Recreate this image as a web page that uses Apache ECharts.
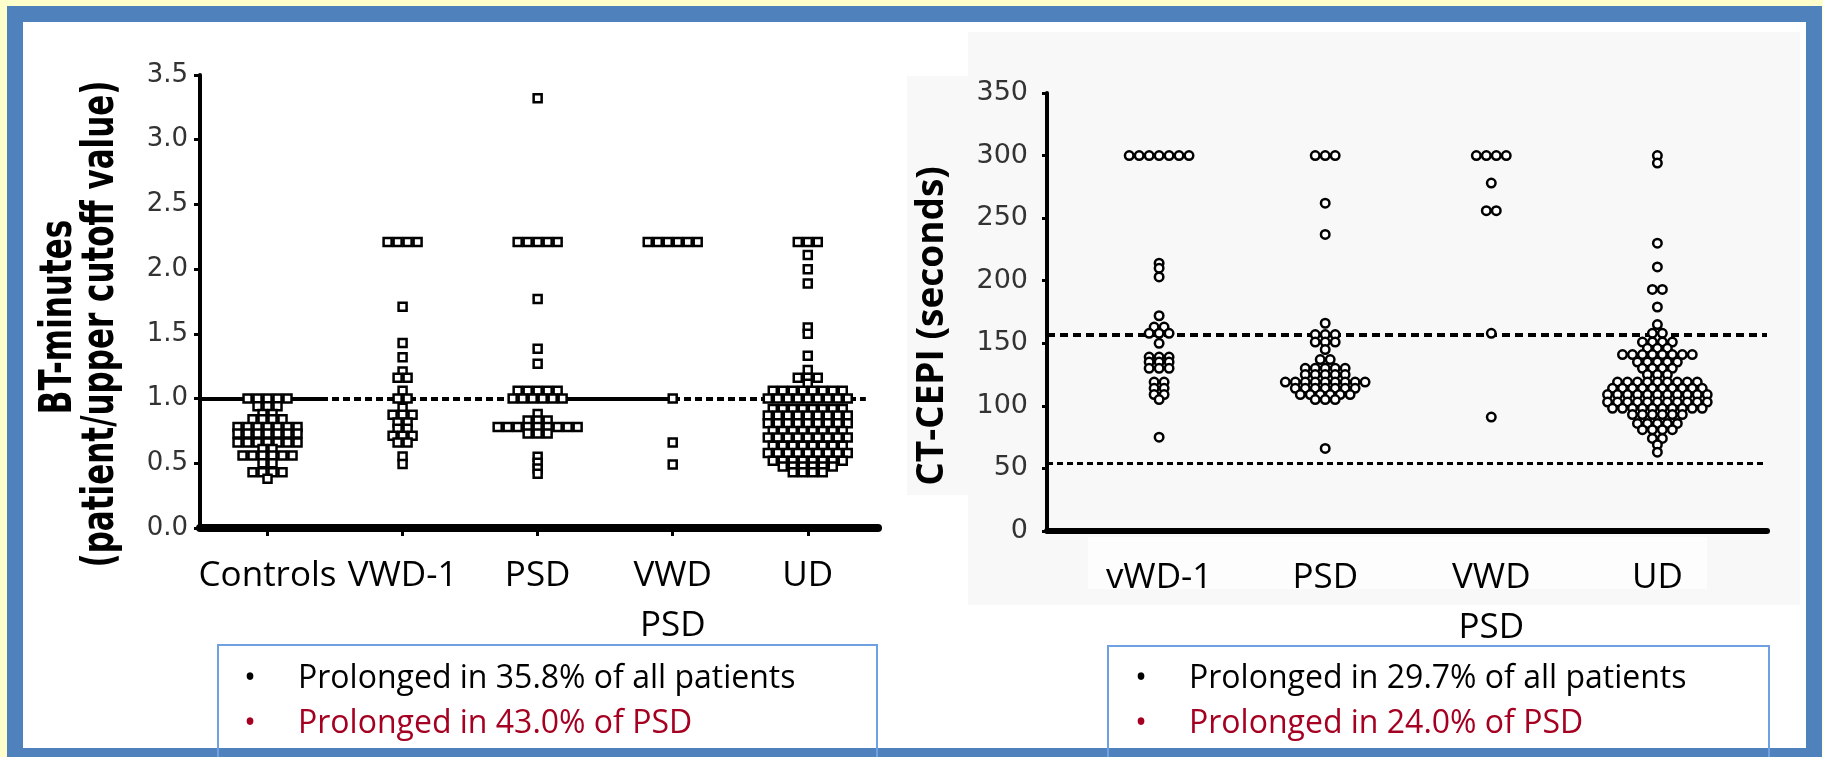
<!DOCTYPE html>
<html>
<head>
<meta charset="utf-8">
<script src="https://cdn.jsdelivr.net/npm/echarts@6/dist/echarts.min.js"></script>
<style>
html,body{margin:0;padding:0;background:#FFFFCC;overflow:hidden}
#c{width:1823px;height:757px}
</style>
</head>
<body>
<div id="c"></div>
<script>
// ---------------- DATA ----------------
const btCategories = ['Controls', 'VWD-1', 'PSD', 'VWD\nPSD', 'UD'];
const btTicks = [0.0, 0.5, 1.0, 1.5, 2.0, 2.5, 3.0, 3.5];
const btCutoff = 1.0;

const btControls = [1.00,1.00,1.00,1.00,1.00, 0.94,0.94,0.94, 0.88,0.88, 0.84,0.84,0.84,0.84,
  0.78,0.78,0.78,0.78,0.78,0.78,0.78, 0.73,0.73,0.73,0.73,0.73,0.73,0.73,
  0.66,0.66,0.66,0.66,0.66,0.66,0.66, 0.61,0.61, 0.56,0.56,0.56,0.56,0.56,0.56,
  0.50,0.50, 0.43,0.43,0.43,0.43, 0.38];
const btVWD1 = [2.21,2.21,2.21,2.21, 1.71, 1.43, 1.32, 1.21, 1.16,1.16, 1.06, 1.00,1.00, 0.93,
  0.875,0.875,0.875, 0.815,0.815, 0.766,0.766, 0.713,0.713,0.713, 0.66,0.66, 0.552, 0.495];
const btPSD = [3.32, 2.21,2.21,2.21,2.21,2.21, 1.77, 1.385, 1.27, 1.06,1.06,1.06,1.06,1.06,
  1.00,1.00,1.00,1.00,1.00,1.00, 0.88, 0.83,0.83,0.83,
  0.78,0.78,0.78,0.78,0.78,0.78,0.78,0.78,0.78, 0.73,0.73,0.73, 0.55, 0.505, 0.46, 0.42];
const btVWDPSD = [2.21,2.21,2.21,2.21,2.21,2.21, 1.00, 0.66, 0.49];
const btUD = [2.21,2.21,2.21, 2.11, 2.00, 1.89, 1.55, 1.50, 1.33, 1.22, 1.16,1.16,1.16, 1.115,
  1.06,1.06,1.06,1.06,1.06,1.06,1.06,1.06,
  1.00,1.00,1.00,1.00,1.00,1.00,1.00,1.00,1.00,
  0.92,0.92,0.92,0.92,0.92,0.92,0.92,0.92,
  0.87,0.87,0.87,0.87,0.87,0.87,0.87,0.87,0.87,
  0.81,0.81,0.81,0.81,0.81,0.81,0.81,0.81,0.81,
  0.75,0.75,0.75,0.75,0.75,0.75,0.75,0.75,
  0.70,0.70,0.70,0.70,0.70,0.70,0.70,0.70,0.70,
  0.635,0.635,0.635,0.635,0.635,0.635,0.635,0.635,
  0.58,0.58,0.58,0.58,0.58,0.58,0.58,0.58,0.58,
  0.52,0.52,0.52,0.52,0.52,0.52,0.52,0.52,
  0.475,0.475,0.475,0.475,0.475,0.475,
  0.43,0.43,0.43,0.43];

const ctCategories = ['vWD-1', 'PSD', 'VWD\nPSD', 'UD'];
const ctTicks = [0, 50, 100, 150, 200, 250, 300, 350];
const ctUpperCutoff = 157;
const ctLowerCutoff = 54;

const ctVWD1 = [300,300,300,300,300,300,300, 214, 210, 203, 172, 163,163, 158,158,158, 150,
  139,139,139, 135,135,135, 130,130,130, 119,119, 114,114, 109,109, 105, 75];
const ctPSD = [300,300,300, 262, 237, 166, 157,157,157, 151,151,151, 145, 137,137,
  130,130,130,130,130, 125,125,125,125,125,
  119,119,119,119,119,119,119,119,119, 114,114,114,114,114,114,114,
  109,109,109,109,109,109, 105,105,105, 66];
const ctVWDPSD = [300,300,300,300, 278, 256,256, 158, 91];
const ctUD = [300, 294, 230, 211, 193,193, 179, 165, 158,158, 151,151,151,151, 146,146,146,
  141,141,141,141,141,141,141,141, 135,135,135,135,135, 130,130,130,130, 125,125,125,
  119,119,119,119,119,119,119,119,119,
  114,114,114,114,114,114,114,114,114,114,
  109,109,109,109,109,109,109,109,109,109,109,
  103,103,103,103,103,103,103,103,103,103,103,
  98,98,98,98,98,98,98,98,98,98,
  93,93,93,93,93,93, 86,86,86,86,86, 81,81,81,81, 74,74, 69, 63];

const leftNotes = ['Prolonged in 35.8% of all patients', 'Prolonged in 43.0% of PSD'];
const rightNotes = ['Prolonged in 29.7% of all patients', 'Prolonged in 24.0% of PSD'];

// ---------------- LAYOUT ----------------
const btSolidSpans = [[-0.5, 0.41], [1.92, 2.98]];   // in category-index units
const btLineEnd = 4.43;
const stepBT = 0.074, stepCT = 0.060;                 // horizontal spacing of swarm markers

function swarm(groups, step) {
  const out = [];
  groups.forEach((vals, ci) => {
    const counts = new Map();
    vals.forEach(v => counts.set(v, (counts.get(v) || 0) + 1));
    counts.forEach((n, v) => {
      for (let k = 0; k < n; k++) out.push([ci + (k - (n - 1) / 2) * step, v]);
    });
  });
  return out;
}

const BLACK = '#000';
const NOTE_RED = '#A50021';
const BOX_BLUE = '#6FA0E2';

const chart = echarts.init(document.getElementById('c'), null, {renderer: 'canvas'});

function noteTexts(x0, notes) {
  const els = [];
  notes.forEach((t, i) => {
    const col = i === 0 ? BLACK : NOTE_RED;
    const y = 679 + i * 45;
    els.push({type: 'text', x: x0, y: y, z: 20,
      style: {text: '\u2022', fontFamily: 'Open Sans', fontSize: 32, fill: col, align: 'left', verticalAlign: 'middle'}});
    els.push({type: 'text', x: x0 + 54, y: y, z: 20,
      style: {text: t, fontFamily: 'Open Sans', fontSize: 32, fill: col, align: 'left', verticalAlign: 'middle'}});
  });
  return els;
}

const graphics = [
  {type: 'rect', z: -20, shape: {x: 7, y: 6, width: 1815, height: 760}, style: {fill: '#4F81BD'}},
  {type: 'rect', z: -19, shape: {x: 23, y: 22, width: 1783, height: 726}, style: {fill: '#FFFFFF'}},
  {type: 'rect', z: -18, shape: {x: 968, y: 32, width: 832, height: 573}, style: {fill: '#F8F8F8'}},
  {type: 'rect', z: -18, shape: {x: 907, y: 76, width: 61, height: 419}, style: {fill: '#F8F8F8'}},
  {type: 'rect', z: -17, shape: {x: 1088, y: 537, width: 619, height: 52}, style: {fill: '#FDFDFD'}},
  // note boxes
  {type: 'rect', z: 15, shape: {x: 218, y: 645, width: 659, height: 130}, style: {fill: 'none', stroke: BOX_BLUE, lineWidth: 2}},
  {type: 'rect', z: 15, shape: {x: 1108, y: 646, width: 661, height: 130}, style: {fill: 'none', stroke: BOX_BLUE, lineWidth: 2}},
  // axis titles
  {type: 'text', x: 59, y: 317, rotation: Math.PI / 2, scaleY: 1.45, z: 10,
    style: {text: 'BT-minutes', fontFamily: 'DejaVu Sans', fontWeight: 'bold', fontSize: 31, fill: BLACK, align: 'center', verticalAlign: 'middle'}},
  {type: 'text', x: 101, y: 324, rotation: Math.PI / 2, scaleY: 1.45, z: 10,
    style: {text: '(patient/upper cutoff value)', fontFamily: 'DejaVu Sans', fontWeight: 'bold', fontSize: 31, fill: BLACK, align: 'center', verticalAlign: 'middle'}},
  {type: 'text', x: 932, y: 326, rotation: Math.PI / 2, z: 10,
    style: {text: 'CT-CEPI (seconds)', fontFamily: 'Open Sans', fontWeight: 'bold', fontSize: 37, fill: BLACK, align: 'center', verticalAlign: 'middle'}}
].concat(noteTexts(244, leftNotes), noteTexts(1135, rightNotes));

const xLabelStyle = {fontFamily: 'Open Sans', fontSize: 35, color: BLACK, lineHeight: 50,
  showMinLabel: true, showMaxLabel: true, hideOverlap: false};

chart.setOption({
  animation: false,
  backgroundColor: 'transparent',
  graphic: {elements: graphics},
  grid: [
    {left: 200, top: 75, width: 678, height: 453, containLabel: false},
    {left: 1047, top: 93, width: 720, height: 438, containLabel: false}
  ],
  xAxis: [
    {gridIndex: 0, type: 'value', min: -0.5, max: 4.52, splitLine: {show: false},
      axisLine: {show: true, onZero: false, lineStyle: {color: BLACK, width: 8}},
      axisTick: {show: true, customValues: btCategories.map((c, i) => i), length: 8, lineStyle: {color: BLACK, width: 3}},
      axisLabel: Object.assign({show: true, customValues: btCategories.map((c, i) => i), margin: 23,
        formatter: v => btCategories[Math.round(v)]}, xLabelStyle)},
    {gridIndex: 1, type: 'value', min: -0.675, max: 3.66, splitLine: {show: false},
      axisLine: {show: true, onZero: false, lineStyle: {color: BLACK, width: 6}},
      axisTick: {show: false},
      axisLabel: Object.assign({show: true, customValues: ctCategories.map((c, i) => i), margin: 22,
        formatter: v => ctCategories[Math.round(v)]}, xLabelStyle)}
  ],
  yAxis: [
    {gridIndex: 0, type: 'value', min: btTicks[0], max: btTicks[btTicks.length - 1], interval: 0.5,
      splitLine: {show: false},
      axisLine: {show: true, onZero: false, lineStyle: {color: BLACK, width: 4}},
      axisTick: {show: true, length: 6, lineStyle: {color: BLACK, width: 3}},
      axisLabel: {formatter: v => v.toFixed(1), fontFamily: 'DejaVu Sans', fontSize: 26, color: '#333', margin: 12}},
    {gridIndex: 1, type: 'value', min: ctTicks[0], max: ctTicks[ctTicks.length - 1], interval: 50,
      splitLine: {show: false},
      axisLine: {show: true, onZero: false, lineStyle: {color: BLACK, width: 4}},
      axisTick: {show: true, length: 5, lineStyle: {color: BLACK, width: 3}},
      axisLabel: {formatter: v => String(v), fontFamily: 'DejaVu Sans', fontSize: 27, color: '#333', margin: 19}}
  ],
  series: [
    {type: 'scatter', xAxisIndex: 0, yAxisIndex: 0, symbol: 'rect', symbolSize: 8,
      itemStyle: {color: '#fff', borderColor: BLACK, borderWidth: 2.5, opacity: 1},
      silent: true, z: 5,
      data: swarm([btControls, btVWD1, btPSD, btVWDPSD, btUD], stepBT),
      markLine: {silent: true, symbol: 'none', label: {show: false}, z: 4,
        data: [
          [{coord: [-0.5, btCutoff], lineStyle: {type: [7, 4], width: 4, color: BLACK}}, {coord: [btLineEnd, btCutoff]}]
        ].concat(btSolidSpans.map(s => [{coord: [s[0], btCutoff], lineStyle: {type: 'solid', width: 4, color: BLACK}}, {coord: [s[1], btCutoff]}]))
      }},
    {type: 'scatter', xAxisIndex: 1, yAxisIndex: 1, symbol: 'circle', symbolSize: 8.5,
      itemStyle: {color: '#fff', borderColor: BLACK, borderWidth: 2.5, opacity: 1},
      silent: true, z: 5,
      data: swarm([ctVWD1, ctPSD, ctVWDPSD, ctUD], stepCT),
      markLine: {silent: true, symbol: 'none', label: {show: false}, z: 4,
        data: [
          {yAxis: ctUpperCutoff, lineStyle: {type: [8, 5], width: 4, color: BLACK}},
          {yAxis: ctLowerCutoff, lineStyle: {type: [6, 4], width: 3, color: BLACK}}
        ]}}
  ]
});
</script>
</body>
</html>
